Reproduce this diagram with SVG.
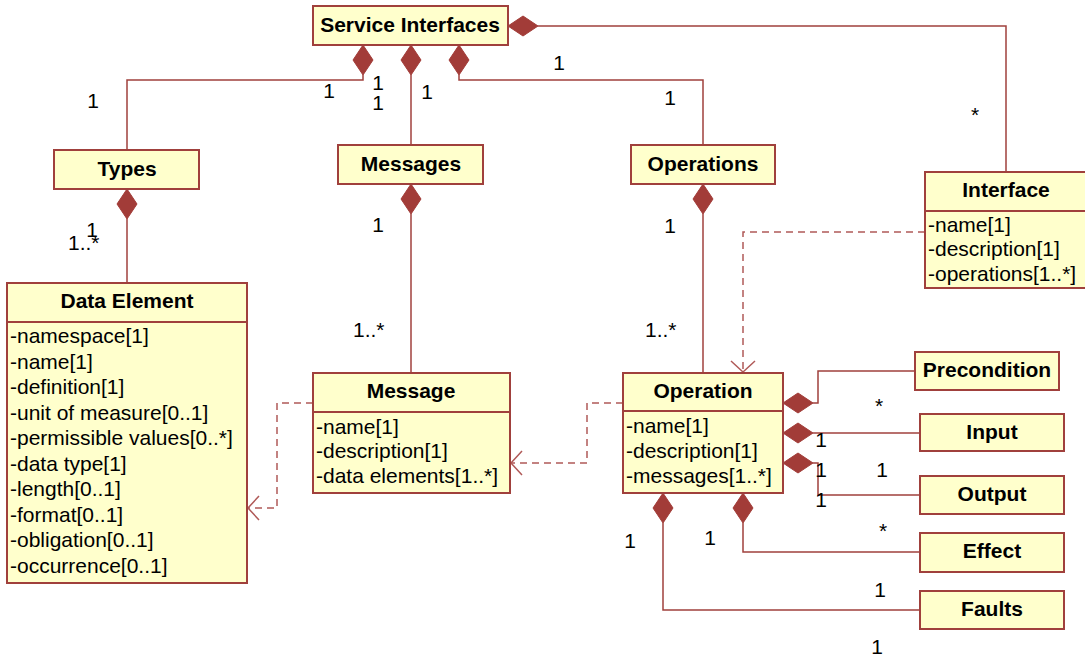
<svg xmlns="http://www.w3.org/2000/svg" xmlns:xlink="http://www.w3.org/1999/xlink" width="1085" height="656" viewBox="0 0 1085 656">
<style>
  .box { fill: #FFFFCC; stroke: #A0403C; stroke-width: 2; }
  .div { stroke: #A0403C; stroke-width: 2; fill: none; }
  .ln { stroke: #A0403C; stroke-width: 1.5; fill: none; }
  .dash { stroke: #B05A58; stroke-width: 1.5; fill: none; stroke-dasharray: 7 5; }
  .arr { stroke: #B05A58; stroke-width: 1.5; fill: none; }
  .dia { fill: #A23C38; stroke: #A23C38; stroke-width: 1; }
  text { font-family: "Liberation Sans", Arial, sans-serif; font-size: 20px; fill: #000; }
  .t { font-weight: bold; text-anchor: middle; }
  .m { text-anchor: middle; }
</style>
<defs>
  <path id="dv" d="M0 0 L10 15 L0 30 L-10 15 Z"/>
  <path id="dh" d="M0 0 L15 -10 L30 0 L15 10 Z"/>
</defs>

<g id="connectors">
  <path class="ln" d="M363 75 V80 H127 V150"/>
  <use href="#dv" class="dia" x="363" y="45"/>
  <path class="ln" d="M411 75 V145"/>
  <use href="#dv" class="dia" x="411" y="45"/>
  <path class="ln" d="M459 75 V80 H703 V145"/>
  <use href="#dv" class="dia" x="459" y="45"/>
  <path class="ln" d="M538 26 H1006 V172"/>
  <use href="#dh" class="dia" x="508" y="26"/>
  <path class="ln" d="M127 219 V283"/>
  <use href="#dv" class="dia" x="127" y="189"/>
  <path class="ln" d="M411 214 V373"/>
  <use href="#dv" class="dia" x="411" y="184"/>
  <path class="ln" d="M703 214 V373"/>
  <use href="#dv" class="dia" x="703" y="184"/>
  <path class="ln" d="M813 403 H818 V371 H915"/>
  <use href="#dh" class="dia" x="783" y="403"/>
  <path class="ln" d="M813 433 H920"/>
  <use href="#dh" class="dia" x="783" y="433"/>
  <path class="ln" d="M813 463 H818 V495 H920"/>
  <use href="#dh" class="dia" x="783" y="463"/>
  <path class="ln" d="M743 523 V552 H920"/>
  <use href="#dv" class="dia" x="743" y="493"/>
  <path class="ln" d="M663 523 V610 H920"/>
  <use href="#dv" class="dia" x="663" y="493"/>
  <path class="dash" d="M313 403 H277 V508 H249"/>
  <path class="arr" d="M259 496 L248 508 L259 520"/>
  <path class="dash" d="M623 403 H587 V463 H512"/>
  <path class="arr" d="M522 451 L511 463 L522 475"/>
  <path class="dash" d="M925 232 H743 V371"/>
  <path class="arr" d="M731 361 L743 372 L755 361"/>
  <text class="m" transform="matrix(1.05 0 0 1 93 108)">1</text>
  <text class="m" transform="matrix(1.05 0 0 1 329 98)">1</text>
  <text class="m" transform="matrix(1.05 0 0 1 378 90)">1</text>
  <text class="m" transform="matrix(1.05 0 0 1 378 110)">1</text>
  <text class="m" transform="matrix(1.05 0 0 1 427 99)">1</text>
  <text class="m" transform="matrix(1.05 0 0 1 559 70)">1</text>
  <text class="m" transform="matrix(1.05 0 0 1 670 105)">1</text>
  <text class="m" transform="matrix(1.05 0 0 1 975 122)">*</text>
  <text class="m" transform="matrix(1.05 0 0 1 92 237)">1</text>
  <text transform="matrix(1.05 0 0 1 68 250)">1..*</text>
  <text class="m" transform="matrix(1.05 0 0 1 378 232)">1</text>
  <text transform="matrix(1.05 0 0 1 353 337)">1..*</text>
  <text class="m" transform="matrix(1.05 0 0 1 670 233)">1</text>
  <text transform="matrix(1.05 0 0 1 645 337)">1..*</text>
  <text class="m" transform="matrix(1.05 0 0 1 879 413)">*</text>
  <text class="m" transform="matrix(1.05 0 0 1 821 447)">1</text>
  <text class="m" transform="matrix(1.05 0 0 1 821 477)">1</text>
  <text class="m" transform="matrix(1.05 0 0 1 882 477)">1</text>
  <text class="m" transform="matrix(1.05 0 0 1 821 507)">1</text>
  <text class="m" transform="matrix(1.05 0 0 1 883 538)">*</text>
  <text class="m" transform="matrix(1.05 0 0 1 710 545)">1</text>
  <text class="m" transform="matrix(1.05 0 0 1 630 548)">1</text>
  <text class="m" transform="matrix(1.05 0 0 1 880 597)">1</text>
  <text class="m" transform="matrix(1.05 0 0 1 877 654)">1</text>
</g>

<g id="service-interfaces">
  <rect class="box" x="313" y="6" width="195" height="39"/>
  <text class="t" transform="matrix(1.05 0 0 1 410 32)">Service Interfaces</text>
</g>
<g id="types">
  <rect class="box" x="54" y="150" width="145" height="39"/>
  <text class="t" transform="matrix(1.05 0 0 1 127 176)">Types</text>
</g>
<g id="messages">
  <rect class="box" x="338" y="145" width="145" height="39"/>
  <text class="t" transform="matrix(1.05 0 0 1 411 171)">Messages</text>
</g>
<g id="operations">
  <rect class="box" x="631" y="145" width="144" height="39"/>
  <text class="t" transform="matrix(1.05 0 0 1 703 171)">Operations</text>
</g>
<g id="interface">
  <rect class="box" x="925" y="172" width="162" height="116"/>
  <line class="div" x1="925" y1="211" x2="1087" y2="211"/>
  <text class="t" transform="matrix(1.05 0 0 1 1006 197)">Interface</text>
  <text transform="matrix(1.05 0 0 1 928 232)">-name[1]</text>
  <text transform="matrix(1.05 0 0 1 928 256)">-description[1]</text>
  <text transform="matrix(1.05 0 0 1 928 281)">-operations[1..*]</text>
</g>
<g id="data-element">
  <rect class="box" x="7" y="283" width="240" height="300"/>
  <line class="div" x1="7" y1="322" x2="247" y2="322"/>
  <text class="t" transform="matrix(1.05 0 0 1 127 308)">Data Element</text>
  <text transform="matrix(1.05 0 0 1 10 343)">-namespace[1]</text>
  <text transform="matrix(1.05 0 0 1 10 368.5)">-name[1]</text>
  <text transform="matrix(1.05 0 0 1 10 394)">-definition[1]</text>
  <text transform="matrix(1.05 0 0 1 10 419.5)">-unit of measure[0..1]</text>
  <text transform="matrix(1.05 0 0 1 10 445)">-permissible values[0..*]</text>
  <text transform="matrix(1.05 0 0 1 10 470.5)">-data type[1]</text>
  <text transform="matrix(1.05 0 0 1 10 496)">-length[0..1]</text>
  <text transform="matrix(1.05 0 0 1 10 521.5)">-format[0..1]</text>
  <text transform="matrix(1.05 0 0 1 10 547)">-obligation[0..1]</text>
  <text transform="matrix(1.05 0 0 1 10 572.5)">-occurrence[0..1]</text>
</g>
<g id="message">
  <rect class="box" x="313" y="373" width="197" height="120"/>
  <line class="div" x1="313" y1="412" x2="510" y2="412"/>
  <text class="t" transform="matrix(1.05 0 0 1 411 398)">Message</text>
  <text transform="matrix(1.05 0 0 1 316 434)">-name[1]</text>
  <text transform="matrix(1.05 0 0 1 316 458)">-description[1]</text>
  <text transform="matrix(1.05 0 0 1 316 483)">-data elements[1..*]</text>
</g>
<g id="operation">
  <rect class="box" x="623" y="373" width="160" height="120"/>
  <line class="div" x1="623" y1="411" x2="783" y2="411"/>
  <text class="t" transform="matrix(1.05 0 0 1 703 398)">Operation</text>
  <text transform="matrix(1.05 0 0 1 626 433)">-name[1]</text>
  <text transform="matrix(1.05 0 0 1 626 458)">-description[1]</text>
  <text transform="matrix(1.05 0 0 1 626 483)">-messages[1..*]</text>
</g>
<g id="precondition">
  <rect class="box" x="915" y="352" width="144" height="38"/>
  <text class="t" transform="matrix(1.05 0 0 1 987 377)">Precondition</text>
</g>
<g id="input">
  <rect class="box" x="920" y="414" width="144" height="37"/>
  <text class="t" transform="matrix(1.05 0 0 1 992 439)">Input</text>
</g>
<g id="output">
  <rect class="box" x="920" y="476" width="144" height="38"/>
  <text class="t" transform="matrix(1.05 0 0 1 992 501)">Output</text>
</g>
<g id="effect">
  <rect class="box" x="920" y="533" width="144" height="39"/>
  <text class="t" transform="matrix(1.05 0 0 1 992 558)">Effect</text>
</g>
<g id="faults">
  <rect class="box" x="920" y="591" width="144" height="38"/>
  <text class="t" transform="matrix(1.05 0 0 1 992 616)">Faults</text>
</g>
</svg>
